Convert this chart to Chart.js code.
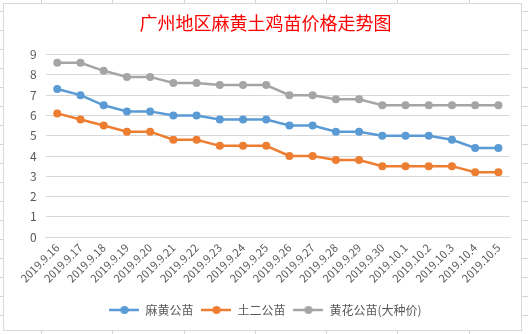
<!DOCTYPE html>
<html lang="zh-CN">
<head>
    <meta charset="UTF-8">
    <title>广州地区麻黄土鸡苗价格走势图</title>
    <script src="https://cdn.jsdelivr.net/npm/chart.js"></script>
    <style>
        html, body {
            margin: 0;
            padding: 0;
            width: 528px;
            height: 334px;
            overflow: hidden;
        }
        body {
            background-color: #ffffff;
            background-image:
                repeating-linear-gradient(90deg, transparent 0, transparent 41px, #d4d4d4 41px, #d4d4d4 42px, transparent 42px, transparent 71.3px),
                repeating-linear-gradient(0deg, transparent 0, transparent 18px, #d4d4d4 18px, #d4d4d4 19px);
        }
        .chart-box {
            position: absolute;
            left: 3px;
            top: 3px;
            width: 519px;
            height: 328px;
            box-sizing: border-box;
            border: 1px solid #d9d9d9;
            background: #ffffff;
        }
    </style>
</head>
<body>
    <div class="chart-box">
        <canvas id="myChart"></canvas>
    </div>

    <script>
        const dates = ['2019.9.16', '2019.9.17', '2019.9.18', '2019.9.19', '2019.9.20', '2019.9.21', '2019.9.22',
            '2019.9.23', '2019.9.24', '2019.9.25', '2019.9.26', '2019.9.27', '2019.9.28', '2019.9.29', '2019.9.30',
            '2019.10.1', '2019.10.2', '2019.10.3', '2019.10.4', '2019.10.5'];
        const mahuang = [7.3, 7.0, 6.5, 6.2, 6.2, 6.0, 6.0, 5.8, 5.8, 5.8, 5.5, 5.5, 5.2, 5.2, 5.0, 5.0, 5.0, 4.8, 4.4, 4.4];
        const tuer = [6.1, 5.8, 5.5, 5.2, 5.2, 4.8, 4.8, 4.5, 4.5, 4.5, 4.0, 4.0, 3.8, 3.8, 3.5, 3.5, 3.5, 3.5, 3.2, 3.2];
        const huanghua = [8.6, 8.6, 8.2, 7.9, 7.9, 7.6, 7.6, 7.5, 7.5, 7.5, 7.0, 7.0, 6.8, 6.8, 6.5, 6.5, 6.5, 6.5, 6.5, 6.5];
        const seriesNames = ['麻黄公苗', '土二公苗', '黄花公苗(大种价)'];
        const colors = ['#5b9bd5', '#ed7d31', '#a5a5a5'];

        const font = "'Noto Sans CJK SC', 'Noto Sans', sans-serif";

        // 图例用的小图标：线 + 圆点
        function legendIcon(color) {
            const c = document.createElement('canvas');
            c.width = 30;
            c.height = 10;
            const g = c.getContext('2d');
            g.strokeStyle = color;
            g.lineWidth = 2.5;
            g.beginPath();
            g.moveTo(0, 5);
            g.lineTo(30, 5);
            g.stroke();
            g.fillStyle = color;
            g.beginPath();
            g.arc(15, 5, 4, 0, Math.PI * 2);
            g.fill();
            return c;
        }

        function makeSet(i, data) {
            return {
                label: seriesNames[i],
                data: data,
                borderColor: colors[i],
                backgroundColor: colors[i],
                borderWidth: 2.5,
                pointRadius: 4,
                pointHoverRadius: 4,
                pointBorderWidth: 0,
                tension: 0
            };
        }

        const ctx = document.getElementById('myChart').getContext('2d');
        new Chart(ctx, {
            type: 'line',
            data: {
                labels: dates,
                datasets: [makeSet(0, mahuang), makeSet(1, tuer), makeSet(2, huanghua)]
            },
            options: {
                responsive: true,
                maintainAspectRatio: false,
                animation: false,
                layout: {
                    padding: { left: 17, right: 11, top: 0, bottom: 4 }
                },
                plugins: {
                    title: {
                        display: true,
                        text: '广州地区麻黄土鸡苗价格走势图',
                        color: '#ff0000',
                        font: { family: font, size: 18, weight: 'normal' },
                        padding: { top: 8, bottom: 21 }
                    },
                    legend: {
                        position: 'bottom',
                        labels: {
                            usePointStyle: true,
                            pointStyleWidth: 30,
                            color: '#595959',
                            font: { family: font, size: 12 },
                            padding: 8,
                            generateLabels: function(chart) {
                                return chart.data.datasets.map((ds, i) => ({
                                    text: ds.label,
                                    fillStyle: colors[i],
                                    strokeStyle: colors[i],
                                    lineWidth: 0,
                                    pointStyle: legendIcon(colors[i]),
                                    fontColor: '#595959',
                                    datasetIndex: i,
                                    hidden: false
                                }));
                            }
                        }
                    },
                    tooltip: { enabled: false }
                },
                scales: {
                    x: {
                        offset: true,
                        grid: { display: false, drawTicks: false },
                        border: { color: '#d9d9d9', width: 1 },
                        afterFit: function(scale) {
                            scale.height += 7;
                        },
                        ticks: {
                            color: '#595959',
                            font: { family: font, size: 11 },
                            minRotation: 45,
                            maxRotation: 45,
                            autoSkip: false,
                            padding: 4
                        }
                    },
                    y: {
                        min: 0,
                        max: 9,
                        grid: { color: '#d9d9d9', drawTicks: false },
                        border: { display: false },
                        ticks: {
                            stepSize: 1,
                            color: '#595959',
                            font: { family: font, size: 12 },
                            padding: 9
                        }
                    }
                }
            }
        });
    </script>
</body>
</html>
